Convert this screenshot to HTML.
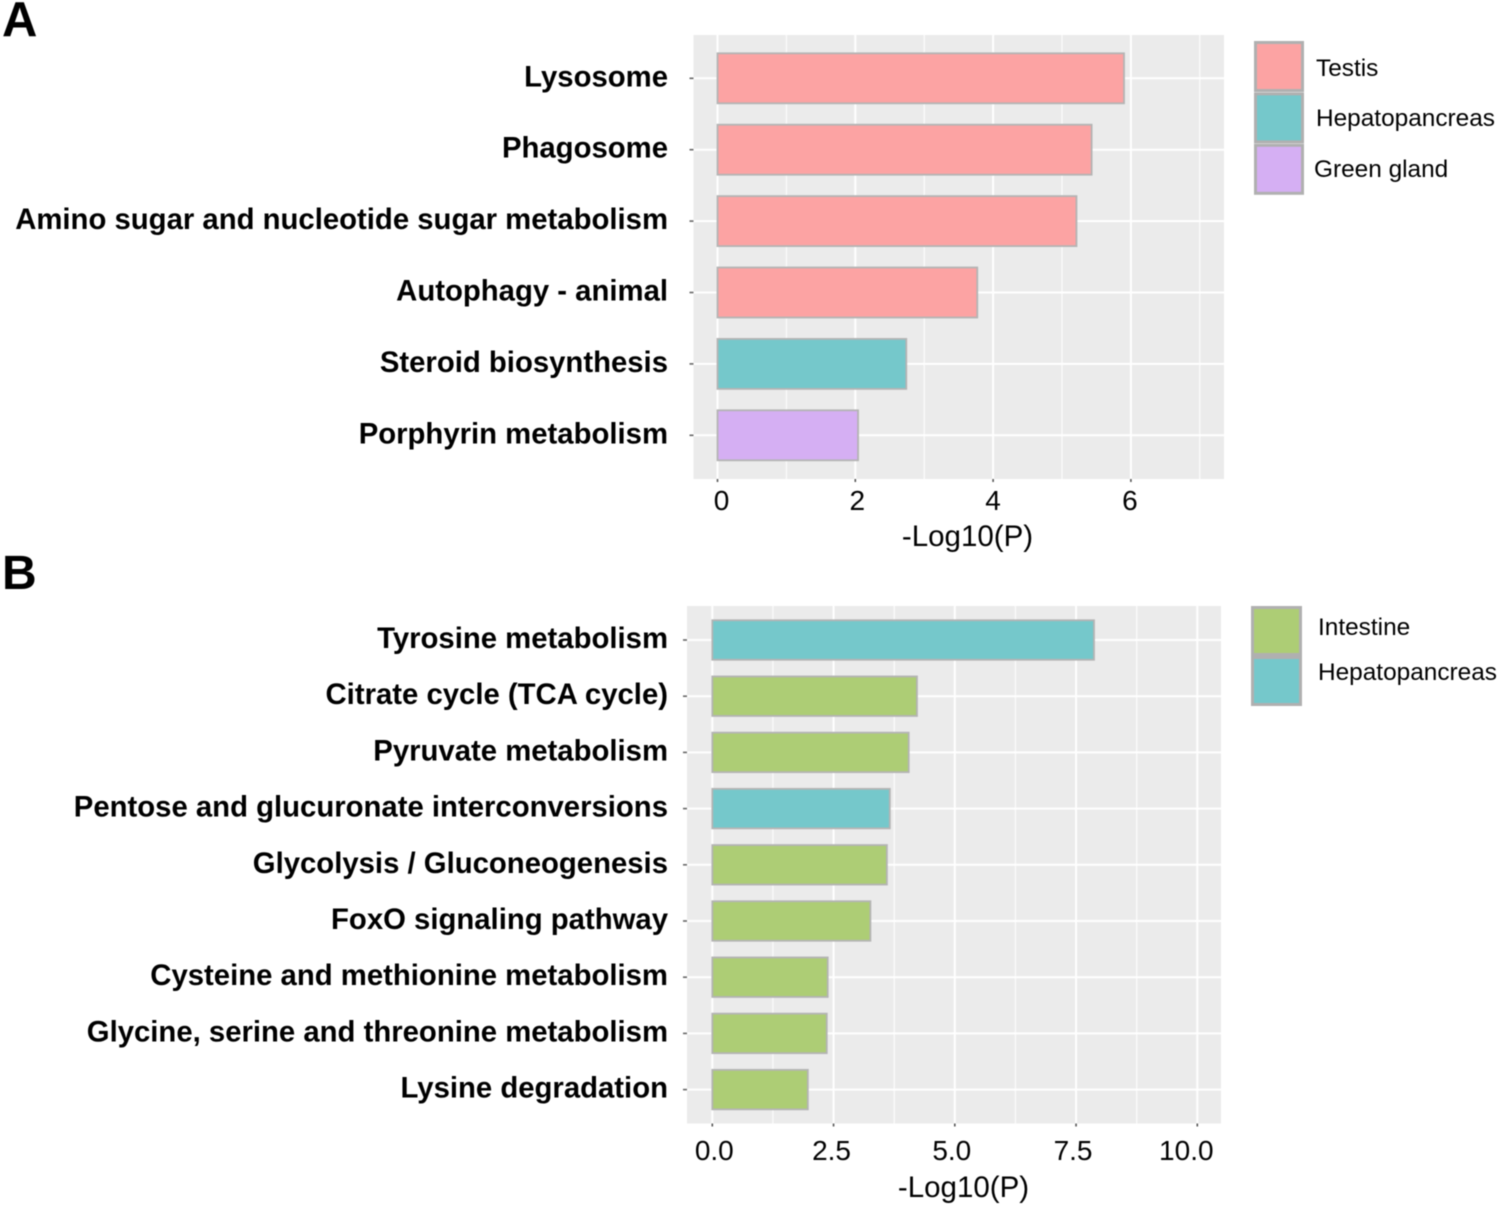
<!DOCTYPE html>
<html lang="en">
<head>
<meta charset="utf-8">
<title>KEGG pathway enrichment by tissue</title>
<style>
html,body{margin:0;padding:0;background:#fff;width:1500px;height:1205px;overflow:hidden}
svg{display:block;filter:blur(0.4px)}
text{font-family:"Liberation Sans",Arial,sans-serif;fill:#000}
</style>
</head>
<body>
<svg id="figure" xmlns="http://www.w3.org/2000/svg" width="1500" height="1205" viewBox="0 0 1500 1205">
  <text x="2" y="36" font-size="49" font-weight="700">A</text>
  <text x="2" y="589" font-size="48" font-weight="700">B</text>
  <g id="panel-a"></g>
  <g id="panel-b"></g>
</svg>
<script>
const TESTIS = '#fca3a3';
const HEPATO = '#75c8cb';
const GREEN_GLAND = '#d5aff3';
const INTESTINE = '#adcd75';

const categoriesA = ['Lysosome', 'Phagosome', 'Amino sugar and nucleotide sugar metabolism', 'Autophagy - animal', 'Steroid biosynthesis', 'Porphyrin metabolism'];
const valuesA = [5.9, 5.43, 5.21, 3.77, 2.74, 2.04];
const tissuesA = ['Testis', 'Testis', 'Testis', 'Testis', 'Hepatopancreas', 'Green gland'];
const ticksA = [0, 2, 4, 6];
const tickLabelsA = ['0', '2', '4', '6'];
const minorTicksA = [1, 3, 5, 7];
const legendA = ['Testis', 'Hepatopancreas', 'Green gland'];

const categoriesB = ['Tyrosine metabolism', 'Citrate cycle (TCA cycle)', 'Pyruvate metabolism', 'Pentose and glucuronate interconversions', 'Glycolysis / Gluconeogenesis', 'FoxO signaling pathway', 'Cysteine and methionine metabolism', 'Glycine, serine and threonine metabolism', 'Lysine degradation'];
const valuesB = [7.87, 4.22, 4.05, 3.66, 3.6, 3.26, 2.38, 2.36, 1.97];
const tissuesB = ['Hepatopancreas', 'Intestine', 'Intestine', 'Hepatopancreas', 'Intestine', 'Intestine', 'Intestine', 'Intestine', 'Intestine'];
const ticksB = [0, 2.5, 5, 7.5, 10];
const tickLabelsB = ['0.0', '2.5', '5.0', '7.5', '10.0'];
const minorTicksB = [1.25, 3.75, 6.25, 8.75];
const legendB = ['Intestine', 'Hepatopancreas'];

const tissueColors = {'Testis': TESTIS, 'Hepatopancreas': HEPATO, 'Green gland': GREEN_GLAND, 'Intestine': INTESTINE};
const NS = 'http://www.w3.org/2000/svg';

function make(parent, tag, attrs, content) {
  const el = document.createElementNS(NS, tag);
  for (const k in attrs) el.setAttribute(k, attrs[k]);
  if (content !== undefined) el.textContent = content;
  parent.appendChild(el);
  return el;
}
function slug(s) {
  return s.toLowerCase().replace(/[^a-z0-9]+/g, '-').replace(/^-|-$/g, '');
}

function drawPanel(root, cats, vals, tissues, ticks, tickLabels, minor, cfg) {
  const xScale = v => cfg.x0 + v * cfg.pxPerUnit;
  const yScale = i => cfg.firstCenter + i * cfg.band;

  const bg = make(root, 'rect', {x: cfg.left, y: cfg.top, width: cfg.right - cfg.left, height: cfg.bottom - cfg.top, fill: '#ebebeb'});
  
  

  minor.forEach(v => {
    const l = make(root, 'line', {x1: xScale(v), x2: xScale(v), y1: cfg.top, y2: cfg.bottom, stroke: '#fafafa', 'stroke-width': 1.4});
    
    
  });
  ticks.forEach(v => {
    const l = make(root, 'line', {x1: xScale(v), x2: xScale(v), y1: cfg.top, y2: cfg.bottom, stroke: '#ffffff', 'stroke-width': 2});
    
    
  });
  cats.forEach((c, i) => {
    const l = make(root, 'line', {x1: cfg.left, x2: cfg.right, y1: yScale(i), y2: yScale(i), stroke: '#ffffff', 'stroke-width': 2});
    
    
  });

  cats.forEach((c, i) => {
    const b = make(root, 'rect', {
      x: xScale(0), y: yScale(i) - cfg.barH / 2,
      width: xScale(vals[i]) - xScale(0), height: cfg.barH,
      fill: tissueColors[tissues[i]], stroke: '#b4b4b4', 'stroke-width': 1.8
    });
    
    

    const t = make(root, 'line', {x1: cfg.left - 4, x2: cfg.left, y1: yScale(i), y2: yScale(i), stroke: '#666', 'stroke-width': 1.6});
    
    

    const lab = make(root, 'text', {x: 668, y: yScale(i) + cfg.labelDy, 'text-anchor': 'end', 'font-size': cfg.labelSize, 'font-weight': 700}, c);
    
    
  });

  ticks.forEach((v, i) => {
    const t = make(root, 'line', {x1: xScale(v), x2: xScale(v), y1: cfg.bottom, y2: cfg.bottom + 3, stroke: '#555', 'stroke-width': 1.6});
    
    

    const lab = make(root, 'text', {x: xScale(v) + cfg.tickDx[i], y: cfg.tickY, 'text-anchor': 'middle', 'font-size': 28}, tickLabels[i]);
    
    
  });

  const title = make(root, 'text', {x: cfg.titleX, y: cfg.titleY, 'text-anchor': 'middle', 'font-size': 29.5}, '-Log10(P)');
  
  
}

function drawLegend(root, entries, cfg) {
  entries.forEach((name, i) => {
    const g = make(root, 'g', {});
    
    
    const y = cfg.top + i * cfg.step;
    make(g, 'rect', {x: cfg.left + 1.5, y: y + 1.5, width: cfg.keyW - 3, height: cfg.keyH - 3, fill: tissueColors[name], stroke: '#b0b0b0', 'stroke-width': 3});
    make(g, 'text', {x: cfg.textX[i], y: cfg.textY[i], 'font-size': 24.4}, name);
  });
}

drawPanel(document.getElementById('panel-a'), categoriesA, valuesA, tissuesA, ticksA, tickLabelsA, minorTicksA, {
  left: 693.5, right: 1224, top: 35, bottom: 479,
  x0: 717.5, pxPerUnit: 68.9,
  firstCenter: 78.3, band: 71.4, barH: 50,
  labelSize: 29.3, labelDy: 8,
  tickDx: [4, 2, 0, -1], tickY: 510,
  titleX: 967.5, titleY: 546
});
drawLegend(document.getElementById('panel-a'), legendA, {
  left: 1254, top: 41, step: 51.4, keyW: 50, keyH: 51,
  textX: [1316, 1316, 1314], textY: [76, 126, 177]
});

drawPanel(document.getElementById('panel-b'), categoriesB, valuesB, tissuesB, ticksB, tickLabelsB, minorTicksB, {
  left: 687, right: 1221, top: 606, bottom: 1123.5,
  x0: 712.3, pxPerUnit: 48.5,
  firstCenter: 640, band: 56.2, barH: 39.5,
  labelSize: 29.3, labelDy: 8,
  tickDx: [2, -2, -3, -3, -11], tickY: 1160,
  titleX: 963.5, titleY: 1197
});
drawLegend(document.getElementById('panel-b'), legendB, {
  left: 1251, top: 606, step: 50, keyW: 51, keyH: 50,
  textX: [1318, 1318], textY: [635, 680]
});
</script>
</body>
</html>
